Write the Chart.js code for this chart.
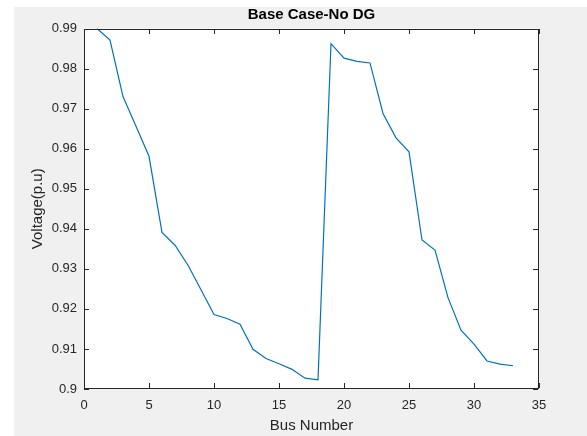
<!DOCTYPE html>
<html>
<head>
<meta charset="utf-8">
<script src="https://cdn.jsdelivr.net/npm/chart.js@4/dist/chart.umd.min.js"></script>
<style>
    body { margin: 0; background: #ffffff; }
    #wrap { width: 587px; height: 436px; }
</style>
</head>
<body>
<div id="wrap"><canvas id="doThi" width="587" height="436"></canvas></div>
<script>
// du lieu doc tu hinh
var busNumber = [1, 2, 3, 4, 5, 6, 7, 8, 9, 10, 11, 12, 13, 14, 15, 16, 17,
    18, 19, 20, 21, 22, 23, 24, 25, 26, 27, 28, 29, 30, 31, 32, 33];
var voltage = [0.9900, 0.9871, 0.9730, 0.9656, 0.9581, 0.9391, 0.9359, 0.9309, 0.9248,
    0.9186, 0.9176, 0.9162, 0.9099, 0.9076, 0.9063, 0.9049, 0.9027, 0.9023,
    0.9862, 0.9826, 0.9818, 0.9814, 0.9688, 0.9627, 0.9592, 0.9372, 0.9347,
    0.9228, 0.9147, 0.9112, 0.9070, 0.9062, 0.9058];
var xTicks = [0, 5, 10, 15, 20, 25, 30, 35];
var yTicks = [0.9, 0.91, 0.92, 0.93, 0.94, 0.95, 0.96, 0.97, 0.98, 0.99];

var mauChu = '#262626';
var font = "Arial, 'Liberation Sans', Helvetica, sans-serif";

// nen xam kieu matlab + khung + vach chia huong vao trong
var khungPlugin = {
    id: 'khung',
    beforeDraw: function (chart) {
        var ctx = chart.ctx;
        var a = chart.chartArea;
        ctx.save();
        ctx.fillStyle = '#ffffff';
        ctx.fillRect(0, 0, chart.width, chart.height);
        ctx.fillStyle = '#f0f0f0';
        ctx.fillRect(14, 7, chart.width - 14, chart.height - 7);
        ctx.fillStyle = '#ffffff';
        ctx.fillRect(a.left, a.top, a.right - a.left, a.bottom - a.top);
        ctx.restore();
    },
    afterDraw: function (chart) {
        var ctx = chart.ctx;
        var a = chart.chartArea;
        var sx = chart.scales.x;
        var sy = chart.scales.y;
        var len = 5;
        var l = Math.round(a.left), r = Math.round(a.right) - 1;
        var t = Math.round(a.top), b = Math.round(a.bottom) - 1;
        ctx.save();
        ctx.fillStyle = mauChu;
        xTicks.forEach(function (v) {
            var px = Math.round(sx.getPixelForValue(v));
            ctx.fillRect(px, b - len, 1, len);
            ctx.fillRect(px, t, 1, len);
        });
        yTicks.forEach(function (v) {
            var py = Math.round(sy.getPixelForValue(v));
            ctx.fillRect(l, py, len, 1);
            ctx.fillRect(r - len, py, len, 1);
        });
        // khung
        ctx.fillRect(l, t, r - l + 1, 1);
        ctx.fillRect(l, b, r - l + 1, 1);
        ctx.fillRect(l, t, 1, b - t + 1);
        ctx.fillRect(r, t, 1, b - t + 1);
        ctx.restore();
    }
};

var diem = busNumber.map(function (b, i) { return { x: b, y: voltage[i] }; });

new Chart(document.getElementById('doThi').getContext('2d'), {
    type: 'line',
    data: {
        datasets: [{
            data: diem,
            borderColor: '#0072BD',
            borderWidth: 1.2,
            pointRadius: 0,
            tension: 0,
            fill: false
        }]
    },
    options: {
        responsive: false,
        animation: false,
        devicePixelRatio: 1,
        layout: { padding: { left: 0, top: 0, right: 48, bottom: 0 } },
        plugins: {
            legend: { display: false },
            tooltip: { enabled: false },
            title: {
                display: true,
                text: 'Base Case-No DG',
                fullSize: false,
                color: '#000000',
                font: { family: font, size: 15, weight: 'bold' },
                padding: { top: 6, bottom: 4.5 }
            }
        },
        scales: {
            x: {
                type: 'linear',
                min: 0,
                max: 35,
                grid: { display: false, drawTicks: false },
                border: { display: false },
                afterBuildTicks: function (s) { s.ticks = xTicks.map(function (v) { return { value: v }; }); },
                afterFit: function (s) { s.height = 47; },
                ticks: {
                    color: mauChu,
                    padding: 9,
                    maxRotation: 0,
                    font: { family: font, size: 13 },
                    callback: function (v) { return String(v); }
                },
                title: {
                    display: true,
                    text: 'Bus Number',
                    color: mauChu,
                    font: { family: font, size: 15 },
                    padding: { top: 0, bottom: 1 }
                }
            },
            y: {
                type: 'linear',
                min: 0.9,
                max: 0.99,
                grid: { display: false, drawTicks: false },
                border: { display: false },
                afterBuildTicks: function (s) { s.ticks = yTicks.map(function (v) { return { value: v }; }); },
                afterFit: function (s) { s.width = 84; },
                ticks: {
                    color: mauChu,
                    padding: 7,
                    font: { family: font, size: 13 },
                    callback: function (v) { return String(+v.toFixed(2)); }
                },
                title: {
                    display: true,
                    text: 'Voltage(p.u)',
                    color: mauChu,
                    font: { family: font, size: 15 },
                    padding: { top: 28.5, bottom: 0 }
                }
            }
        }
    },
    plugins: [khungPlugin]
});
</script>
</body>
</html>
